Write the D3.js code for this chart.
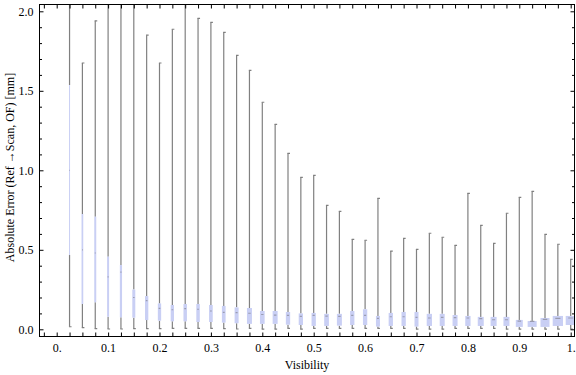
<!DOCTYPE html>
<html>
<head>
<meta charset="utf-8">
<script src="https://cdn.jsdelivr.net/npm/d3@7"></script>
<style>
  body { margin: 0; background: #fff; }
  text { font-family: "Liberation Serif", "Times New Roman", serif; }
</style>
</head>
<body>
<script>
var width = 576,
    height = 375;

// visibility categories (box positions)
var visibility = [0.025, 0.05, 0.075, 0.1, 0.125, 0.15, 0.175, 0.2, 0.225, 0.25,
                  0.275, 0.3, 0.325, 0.35, 0.375, 0.4, 0.425, 0.45, 0.475, 0.5,
                  0.525, 0.55, 0.575, 0.6, 0.625, 0.65, 0.675, 0.7, 0.725, 0.75,
                  0.775, 0.8, 0.825, 0.85, 0.875, 0.9, 0.925, 0.95, 0.975, 1.0];

// box-whisker statistics, absolute error [mm]
var whiskerLow = [0.016, 0.010, 0.004, 0.002, 0.002, 0.004, 0.004, 0.004, 0.006, 0.006,
                  0.006, 0.006, 0.004, 0.002, 0.006, 0.001, 0.001, 0.006, 0.001, 0.006,
                  0.006, 0.006, 0.006, 0.006, 0.006, 0.006, 0.006, 0.001, 0.001, 0.001,
                  0.006, 0.006, 0.006, 0.006, 0.001, 0.001, 0.001, 0.001, 0.001, 0.002];
var q1 = [0.467, 0.159, 0.170, 0.079, 0.075, 0.073, 0.058, 0.054, 0.050, 0.050,
          0.046, 0.046, 0.042, 0.038, 0.034, 0.034, 0.034, 0.029, 0.027, 0.021,
          0.021, 0.023, 0.027, 0.027, 0.017, 0.021, 0.021, 0.017, 0.021, 0.021,
          0.021, 0.021, 0.021, 0.021, 0.021, 0.015, 0.015, 0.015, 0.021, 0.027];
var median = [1.00, 0.50, 0.48, 0.33, 0.36, 0.20, 0.18, 0.132, 0.123, 0.130,
              0.126, 0.115, 0.107, 0.105, 0.101, 0.093, 0.089, 0.087, 0.081, 0.087,
              0.083, 0.081, 0.087, 0.087, 0.069, 0.079, 0.079, 0.075, 0.071, 0.075,
              0.073, 0.071, 0.067, 0.060, 0.060, 0.052, 0.050, 0.063, 0.069, 0.071];
var q3 = [1.536, 0.725, 0.708, 0.457, 0.404, 0.250, 0.209, 0.163, 0.153, 0.159,
          0.159, 0.153, 0.147, 0.138, 0.134, 0.115, 0.115, 0.109, 0.100, 0.103,
          0.097, 0.097, 0.115, 0.126, 0.084, 0.103, 0.109, 0.109, 0.097, 0.097,
          0.090, 0.084, 0.078, 0.078, 0.078, 0.059, 0.052, 0.071, 0.084, 0.084];
var whiskerHigh = [2.5, 1.675, 1.94, 2.5, 2.5, 2.5, 1.85, 1.675, 1.887, 2.5,
                   1.956, 1.93, 1.868, 1.723, 1.629, 1.428, 1.289, 1.107, 0.956, 0.968,
                   0.78, 0.742, 0.566, 0.56, 0.824, 0.492, 0.572, 0.503, 0.604, 0.579,
                   0.528, 0.855, 0.654, 0.541, 0.730, 0.830, 0.868, 0.597, 0.535, 0.440];
// samples per category (drives box width)
var samples = [10, 29, 40, 40, 48, 90, 110, 110, 110, 120,
               120, 137, 137, 160, 250, 220, 250, 185, 185, 185,
               220, 250, 185, 185, 160, 185, 185, 160, 280, 250,
               250, 280, 360, 360, 360, 490, 810, 810, 1060, 1000];

var xTickLabels = ["0.", "0.1", "0.2", "0.3", "0.4", "0.5", "0.6", "0.7", "0.8", "0.9", "1."];
var yTickLabels = ["0.0", "0.5", "1.0", "1.5", "2.0"];

var data = visibility.map(function(v, i) {
  return {v: v, lo: whiskerLow[i], q1: q1[i], med: median[i], q3: q3[i], hi: whiskerHigh[i], n: samples[i]};
});

var fLeft = 39.5, fRight = 574.5, fTop = 4.5, fBottom = 336.5;

var x = d3.scaleLinear().domain([-0.03346, 1.00739]).range([fLeft, fRight]);
var y = d3.scaleLinear().domain([-0.0453, 2.0428]).range([fBottom, fTop]);
var w = d3.scaleSqrt().domain([0, 1000]).range([0, 10]);

var svg = d3.select("body").append("svg")
    .attr("width", width)
    .attr("height", height);

svg.append("defs").append("clipPath").attr("id", "clip")
  .append("rect")
    .attr("x", fLeft).attr("y", fTop)
    .attr("width", fRight - fLeft).attr("height", fBottom - fTop);

var plot = svg.append("g").attr("clip-path", "url(#clip)");

var box = plot.selectAll("g.box")
  .data(data)
  .enter().append("g")
    .attr("class", "box");

// whiskers
box.append("line")
    .attr("x1", function(d) { return x(d.v); })
    .attr("x2", function(d) { return x(d.v); })
    .attr("y1", function(d) { return y(d.lo); })
    .attr("y2", function(d) { return y(d.q1); })
    .attr("stroke", "#808080").attr("stroke-width", 1.2);
box.append("line")
    .attr("x1", function(d) { return x(d.v); })
    .attr("x2", function(d) { return x(d.v); })
    .attr("y1", function(d) { return y(d.q3); })
    .attr("y2", function(d) { return y(d.hi); })
    .attr("stroke", "#808080").attr("stroke-width", 1.2);
// caps
box.selectAll("line.cap")
  .data(function(d) { return [{v: d.v, val: d.lo}, {v: d.v, val: d.hi}]; })
  .enter().append("line")
    .attr("class", "cap")
    .attr("x1", function(d) { return x(d.v) - 0.6; })
    .attr("x2", function(d) { return x(d.v) + 2; })
    .attr("y1", function(d) { return y(d.val); })
    .attr("y2", function(d) { return y(d.val); })
    .attr("stroke", "#808080").attr("stroke-width", 1.2);

// boxes
box.append("rect")
    .attr("x", function(d) { return x(d.v) - w(d.n) / 2; })
    .attr("width", function(d) { return w(d.n); })
    .attr("y", function(d) { return y(d.q3); })
    .attr("height", function(d) { return y(d.q1) - y(d.q3); })
    .attr("fill", "#c9cff4");

// medians
box.append("line")
    .attr("x1", function(d) { return x(d.v) - w(d.n) * 0.25; })
    .attr("x2", function(d) { return x(d.v) + w(d.n) * 0.25; })
    .attr("y1", function(d) { return y(d.med); })
    .attr("y2", function(d) { return y(d.med); })
    .attr("stroke", "#9a9cb0").attr("stroke-width", 1.2);

// frame
svg.append("rect")
    .attr("x", fLeft).attr("y", fTop)
    .attr("width", fRight - fLeft).attr("height", fBottom - fTop)
    .attr("fill", "none").attr("stroke", "#000").attr("stroke-width", 1);

// x ticks every 0.025, labels every 0.1
var xTicks = d3.range(-1, 41).map(function(i) { return i * 0.025; });
var xLabelMap = {};
xTickLabels.forEach(function(l, i) { xLabelMap[i * 4] = l; });

var xAxisB = d3.axisBottom(x)
    .tickValues(xTicks)
    .tickSizeInner(-4).tickSizeOuter(0).tickPadding(7)
    .tickFormat(function(d) { var k = Math.round(d / 0.025); return xLabelMap[k] || ""; });
svg.append("g").attr("transform", "translate(0," + fBottom + ")").call(xAxisB);
svg.append("g").attr("transform", "translate(0," + fTop + ")")
    .call(d3.axisTop(x).tickValues(xTicks).tickSizeInner(-4).tickSizeOuter(0).tickFormat(""));

// y ticks: major every 0.5, minor every 0.1
var yMajor = yTickLabels.map(function(l) { return +l; });
var yMinor = d3.range(0, 21).map(function(i) { return i / 10; })
    .filter(function(v) { return Math.abs(v * 2 - Math.round(v * 2)) > 1e-6; });

svg.append("g").attr("transform", "translate(" + fLeft + ",0)")
    .call(d3.axisLeft(y).tickValues(yMajor).tickSizeInner(-4).tickSizeOuter(0).tickPadding(6)
      .tickFormat(function(d, i) { return yTickLabels[i]; }));
svg.append("g").attr("transform", "translate(" + fLeft + ",0)")
    .call(d3.axisLeft(y).tickValues(yMinor).tickSizeInner(-2.5).tickSizeOuter(0).tickFormat(""));
svg.append("g").attr("transform", "translate(" + fRight + ",0)")
    .call(d3.axisRight(y).tickValues(yMajor).tickSizeInner(-4).tickSizeOuter(0).tickFormat(""));
svg.append("g").attr("transform", "translate(" + fRight + ",0)")
    .call(d3.axisRight(y).tickValues(yMinor).tickSizeInner(-2.5).tickSizeOuter(0).tickFormat(""));

svg.selectAll(".domain").remove();
svg.selectAll(".tick line").attr("stroke", "#000");
svg.selectAll(".tick text")
    .style("font-family", "'Liberation Serif', serif")
    .style("font-size", "12px")
    .attr("fill", "#000");

// axis titles
svg.append("text")
    .attr("x", (fLeft + fRight) / 2)
    .attr("y", 369)
    .attr("text-anchor", "middle")
    .style("font-size", "12px")
    .text("Visibility");

svg.append("text")
    .attr("transform", "translate(14," + ((fTop + fBottom) / 2 - 3) + ") rotate(-90)")
    .attr("text-anchor", "middle")
    .style("font-size", "12px")
    .text("Absolute Error (Ref →Scan, OF) [mm]");
</script>
</body>
</html>
